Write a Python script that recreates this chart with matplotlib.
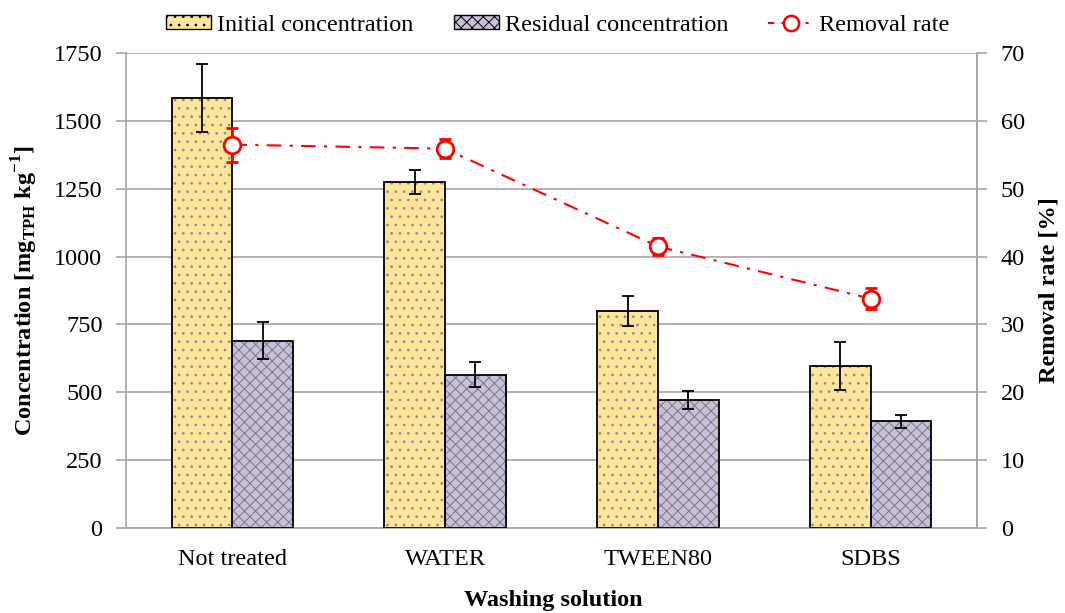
import matplotlib
matplotlib.use("Agg")
import matplotlib.pyplot as plt
import numpy as np
from matplotlib.patches import Patch
from matplotlib.lines import Line2D

plt.rcParams['font.family'] = 'Liberation Serif'
plt.rcParams['mathtext.fontset'] = 'custom'
plt.rcParams['mathtext.rm'] = 'Liberation Serif'
plt.rcParams['mathtext.bf'] = 'Liberation Serif:bold'
plt.rcParams['hatch.linewidth'] = 0.7

solutions = ['Not treated', 'WATER', 'TWEEN80', 'SDBS']
initial = [1585, 1275, 800, 596]
initial_err = [125, 45, 55, 88]
residual = [690, 565, 470, 393]
residual_err = [68, 45, 33, 25]
removal = [56.5, 55.9, 41.5, 33.8]
removal_err = [2.5, 1.4, 1.2, 1.6]

c_init = '#FFE49C'
c_res = '#C8BFDA'
grid_c = '#A6A6A6'
fs = 17.5

fig = plt.figure(figsize=(10.65, 6.13), dpi=100)
ax = fig.add_axes([0.1183, 0.1387, 0.7991, 0.7748])
x = np.arange(len(solutions))
w = 0.285

# plain fill, grey hatch layer, then black outline on top
ax.bar(x - w/2, initial, w, color=c_init, linewidth=0, zorder=2)
ax.bar(x - w/2, initial, w, color='none', edgecolor='#8C8C8C', hatch='..', linewidth=0, zorder=3)
ax.bar(x - w/2, initial, w, color='none', edgecolor='black', linewidth=1.3, zorder=4)
ax.bar(x + w/2, residual, w, color=c_res, linewidth=0, zorder=2)
ax.bar(x + w/2, residual, w, color='none', edgecolor='#7A7A7A', hatch='xxx', linewidth=0, zorder=3)
ax.bar(x + w/2, residual, w, color='none', edgecolor='black', linewidth=1.3, zorder=4)
ax.errorbar(x - w/2, initial, yerr=initial_err, fmt='none', ecolor='black',
            elinewidth=1.3, capsize=4, capthick=1.3, zorder=5)
ax.errorbar(x + w/2, residual, yerr=residual_err, fmt='none', ecolor='black',
            elinewidth=1.3, capsize=4, capthick=1.3, zorder=5)

ax.set_xlim(-0.5, 3.5)
ax.set_ylim(0, 1750)
ax.set_yticks(np.arange(0, 1751, 250))
ax.set_xticks(x)
ax.set_xticklabels(solutions, fontsize=fs)
ax.tick_params(axis='x', length=0, pad=15)
ax.tick_params(axis='y', labelsize=fs, length=7, color=grid_c, width=1.2, pad=10)
ax.yaxis.grid(True, color=grid_c, linewidth=1.2, zorder=0)
ax.set_axisbelow(True)
ax.spines['top'].set_visible(False)
for side in ['left', 'right', 'bottom']:
    ax.spines[side].set_color(grid_c)
    ax.spines[side].set_linewidth(1.2)

fig.text(0.52, 0.004, 'Washing solution', fontsize=fs, fontweight='bold',
         ha='center', va='bottom')
ax.set_ylabel(r'Concentration [mg$_{\mathbf{TPH}}$ kg$^{\mathbf{-1}}$]',
              fontsize=fs, fontweight='bold', labelpad=10)

ax2 = ax.twinx()
ax2.errorbar(x, removal, yerr=removal_err, fmt='-.', color='red', ecolor='red',
             marker='o', markersize=12, markerfacecolor='white', markeredgewidth=2,
             linewidth=1.5, elinewidth=2, capsize=4, capthick=2, zorder=6,
             dashes=(7, 4, 1.5, 4))
ax2.set_ylim(0, 70)
ax2.set_yticks(np.arange(0, 71, 10))
ax2.tick_params(axis='y', labelsize=fs, length=7, color=grid_c, width=1.2, pad=10)
for side in ['top', 'left', 'bottom']:
    ax2.spines[side].set_visible(False)
ax2.spines['right'].set_color(grid_c)
ax2.spines['right'].set_linewidth(1.2)
ax2.set_ylabel('Removal rate [%]', fontsize=fs, fontweight='bold', labelpad=10)

handles = [
    Patch(facecolor=c_init, edgecolor='black', hatch='..', label='Initial concentration'),
    Patch(facecolor=c_res, edgecolor='black', hatch='xxx', label='Residual concentration'),
    Line2D([], [], color='red', linestyle='-.', marker='o', markersize=11,
           markerfacecolor='white', markeredgewidth=1.8, dashes=(3, 3.5, 1.5, 3.5),
           label='Removal rate'),
]
fig.legend(handles=handles, loc='upper center', bbox_to_anchor=(0.524, 1.012), ncol=3,
           frameon=False, fontsize=fs, handlelength=1.85, handleheight=0.55,
           handletextpad=0.25, columnspacing=1.65)

fig.savefig('out.png', dpi=100)
